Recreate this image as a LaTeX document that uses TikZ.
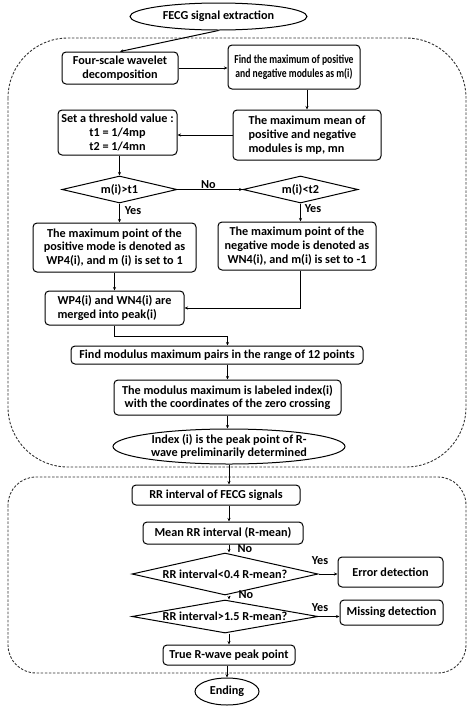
\documentclass[tikz,border=0pt]{standalone}
\usepackage{fontspec}
\setmainfont{Carlito}
\newfontfamily\condfont[FakeStretch=0.79]{Carlito}
\usetikzlibrary{shapes.geometric,arrows.meta}
\begin{document}
\begin{tikzpicture}[x=1pt,y=-1pt,
  every node/.style={font=\fontsize{12.2}{13.8}\selectfont\bfseries},
  box/.style={draw, line width=1pt, rounded corners=4pt, align=center, inner sep=1pt},
  oval/.style={draw, line width=1pt, ellipse, inner sep=0pt},
  dia/.style={draw, line width=1pt, diamond, inner sep=0pt},
  txt/.style={inner sep=0pt, align=center},
  lbl/.style={inner sep=0pt},
  arr/.style={line width=1pt, -{Stealth[length=3.5pt,width=3pt]}},
  region/.style={draw, line width=0.9pt, dash pattern=on 2.5pt off 1.6pt, black!80}]
\useasboundingbox (0,0) rectangle (474,713);
% regions
\draw[region, rounded corners=60pt] (8,38) rectangle (466,467);
\draw[region, rounded corners=28pt] (8,477) rectangle (466,673);
% nodes
\node[oval, minimum width=177pt, minimum height=27pt] (start) at (218.5,16.5) {};
\node[txt] (startt) at (start) {FECG signal extraction};
\node[box, minimum width=116pt, minimum height=32pt] (four) at (120,68) {Four-scale wavelet\\decomposition};
\node[box, minimum width=132pt, minimum height=44pt, font=\fontsize{12.2}{14.5}\condfont\bfseries] (findmax) at (294,67) {Find the maximum of positive\\and negative modules as m(i)};
\node[box, minimum width=148pt, minimum height=50pt, align=left] (maxmean) at (307,135) {The maximum mean of\\positive and negative\\modules is mp, mn};
\node[box, minimum width=119pt, minimum height=45pt] (thresh) at (117.5,132.5) {Set a threshold value :\\t1 = 1/4mp\\t2 = 1/4mn};
\node[dia, minimum width=115pt, minimum height=27pt] (d1) at (119.5,189.5) {};
\node[txt] (d1t) at (d1) {m(i)>t1};
\node[dia, minimum width=115pt, minimum height=27pt] (d2) at (300.5,189.5) {};
\node[txt] (d2t) at (d2) {m(i)<t2};
\node[box, minimum width=163pt, minimum height=49pt] (pos) at (114.5,247.5) {The maximum point of the\\positive mode is denoted as\\WP4(i), and m (i) is set to 1};
\node[box, minimum width=158pt, minimum height=48pt] (neg) at (297,246) {The maximum point of the\\negative mode is denoted as\\WN4(i), and m(i) is set to -1};
\node[box, minimum width=139pt, minimum height=34pt, align=left] (merged) at (114.5,308) {WP4(i) and WN4(i) are\\merged into peak(i)};
\node[box, minimum width=292pt, minimum height=18pt] (findmod) at (217,355) {Find modulus maximum pairs in the range of 12 points};
\node[box, minimum width=227pt, minimum height=35pt] (labeled) at (227.5,397.5) {The modulus maximum is labeled index(i)\\with the coordinates of the zero crossing};
\node[oval, minimum width=232pt, minimum height=35pt] (idx) at (229,446.5) {};
\node[txt] (idxt) at (idx) {Index (i) is the peak point of R-\\wave preliminarily determined};
\node[box, minimum width=168pt, minimum height=20pt] (rr) at (216,495) {RR interval of FECG signals};
\node[box, minimum width=160pt, minimum height=22pt] (mean) at (223,533) {Mean RR interval (R-mean)};
\node[dia, minimum width=186pt, minimum height=42pt] (d3) at (225,574) {};
\node[txt] (d3t) at (d3) {RR interval<0.4 R-mean?};
\node[box, minimum width=105pt, minimum height=30pt] (err) at (390.5,572) {Error detection};
\node[dia, minimum width=186pt, minimum height=33pt] (d4) at (225,616.5) {};
\node[txt] (d4t) at (d4) {RR interval>1.5 R-mean?};
\node[box, minimum width=103pt, minimum height=25pt] (miss) at (391.5,612.5) {Missing detection};
\node[box, minimum width=132pt, minimum height=20pt] (true) at (229,655) {True R-wave peak point};
\node[oval, minimum width=64pt, minimum height=27pt] (end) at (227,691.5) {};
\node[txt] (endt) at (end) {Ending};
% labels
\node[lbl] (l1) at (208.5,185) {No};
\node[lbl] (l2) at (133,210.5) {Yes};
\node[lbl] (l3) at (313,209) {Yes};
\node[lbl] (l4) at (245,549) {No};
\node[lbl] (l5) at (320,561) {Yes};
\node[lbl] (l6) at (246,595) {No};
\node[lbl] (l7) at (320,608) {Yes};
% connectors
\draw[arr] (start.south) -- (four.north);
\draw[arr] (four.east) -- (four.east -| findmax.west);
\draw[arr] (maxmean.north |- findmax.south) -- (maxmean.north);
\draw[arr] (maxmean.west) -- (maxmean.west -| thresh.east);
\draw[arr] (d1.north |- thresh.south) -- (d1.north);
\draw[arr] (d1.east) -- (d2.west);
\draw[arr] (d1.south) -- (d1.south |- pos.north);
\draw[arr] (d2.south) -- (d2.south |- neg.north);
\draw[arr] (pos.south) -- (pos.south |- merged.north);
\draw[arr] (d2.south |- neg.south) |- (merged.east);
\draw[arr] (merged.south) -- ++(0,11) -| (labeled.north |- findmod.north);
\draw[arr] (labeled.north |- findmod.south) -- (labeled.north);
\draw[arr] (labeled.south) -- (labeled.south |- idx.north);
\draw[arr] (idx.south) -- (idx.south |- rr.north);
\draw[arr] (idx.south |- rr.south) -- (idx.south |- mean.north);
\draw[arr] (idx.south |- mean.south) -- (idx.south |- d3.north);
\draw[arr] (d3.east) -- (d3.east -| err.west);
\draw[arr] (idx.south |- d3.south) -- (idx.south |- d4.north);
\draw[arr] (d4.east) -- (d4.east -| miss.west);
\draw[arr] (idx.south |- d4.south) -- (idx.south |- true.north);
\draw[arr] (end.north |- true.south) -- (end.north);
\end{tikzpicture}
\end{document}
